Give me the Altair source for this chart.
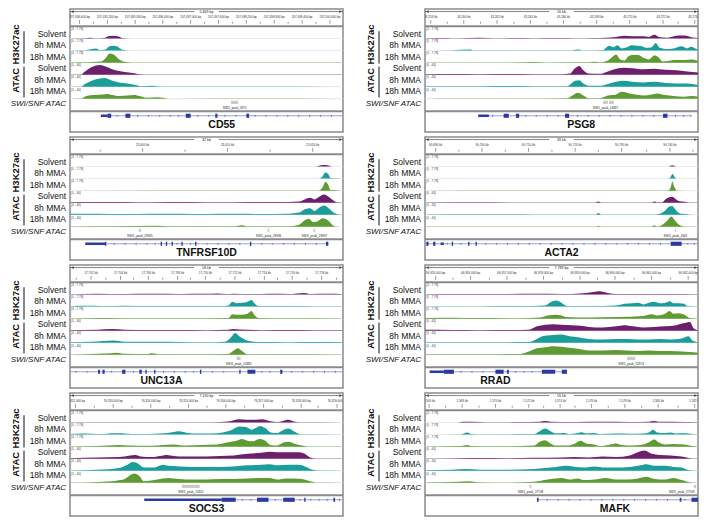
import altair as alt
import pandas as pd

FONT = "Liberation Sans"
COND = ["Solvent", "8h MMA", "18h MMA"]
COLORS = ["#6b1f6c", "#1b9d99", "#5e9c33"]
ROW_LABELS = ["Solvent", "8h MMA", "18h MMA", "Solvent", "8h MMA", "18h MMA"]
RANGE_TEXT = ["[0 - 7.78]"] * 3 + ["[0 - 40]"] * 3

# ---------------- CD55 ----------------
CD55_K27_SOL = [(0,0.01),(5,0.02),(7.5,0.08),(9,0.03),(12.5,0.05),(14,0.2),(15.5,0.25),(17.5,0.2),(19,0.05),(22,0.01),(100,0.01)]
CD55_K27_8H = [(0,0.01),(5,0.02),(8,0.15),(9.5,0.2),(11,0.05),(13,0.1),(14.5,0.4),(16,0.45),(17.5,0.35),(19,0.1),(22,0.01),(100,0.01)]
CD55_K27_18H = [(0,0.01),(4,0.03),(8,0.05),(11.5,0.1),(13,0.4),(14.5,0.85),(16,0.75),(18,0.3),(20,0.08),(23,0.02),(100,0.01)]
CD55_ATAC_SOL = [(0,0.01),(4,0.02),(5.5,0.3),(8,0.7),(11,0.9),(13,0.75),(15,0.55),(17,0.38),(20,0.25),(23,0.15),(25.5,0.03),(30,0.01),(100,0.01)]
CD55_ATAC_8H = [(0,0.01),(4,0.02),(5.5,0.25),(8,0.55),(11,0.75),(12.5,0.8),(15,0.6),(18,0.4),(21,0.3),(24,0.15),(26,0.05),(30,0.08),(32,0.05),(35,0.02),(100,0.01)]
CD55_ATAC_18H = [(0,0.01),(4,0.02),(6,0.25),(9,0.35),(12,0.4),(13.5,0.45),(15.5,0.35),(18,0.25),(21,0.3),(23.5,0.35),(25.5,0.25),(28,0.1),(32,0.15),(34,0.1),(36,0.01),(70,0.03),(100,0.01)]
CD55_TICK_X = [3.5, 13.7, 23.9, 34, 44.2, 54.4, 64.6, 74.8, 85, 95.2]
CD55_TICK_LAB = ["207,494,600 bp","207,495,200 bp","207,495,800 bp","207,496,400 bp","207,497,000 bp","207,497,600 bp","207,498,200 bp","207,498,800 bp","207,499,400 bp","207,500,000 bp"]
CD55_PEAKS = [(59, 61.6, "SWI1_peak_2871")]
CD55_GENE = (11.3, 100)
CD55_EXONS = [(11.3,13.7,"utr"),(13.7,15.1,"cds"),(20.3,22.1,"cds"),(42.4,44.2,"cds"),(53.2,54,"cds"),(64.6,65.6,"cds")]
CD55_ARROWS = [17.5,25,29,33,37,40,47,51,57,61,68,72,76,80,84,88,92,96]

# ---------------- PSG8 ----------------
PSG8_K27_SOL = [(0,0.02),(8,0.05),(12,0.02),(20,0.06),(25,0.02),(33,0.05),(40,0.03),(48,0.05),(55,0.03),(62,0.05),(66,0.08),(70,0.15),(73,0.25),(76,0.2),(80,0.2),(82,0.15),(84,0.35),(86,0.12),(89,0.08),(92,0.25),(95,0.28),(98,0.1),(100,0.05)]
PSG8_K27_8H = [(0,0.01),(10,0.03),(16.5,0.1),(18,0.02),(40,0.03),(54,0.04),(56,0.1),(58,0.03),(65,0.05),(67.5,0.45),(69,0.3),(70.5,0.5),(72,0.2),(74,0.3),(75.5,0.5),(78,0.45),(79.5,0.4),(81,0.25),(83,0.3),(84.5,0.7),(86,0.25),(88,0.15),(91,0.2),(94,0.4),(96,0.2),(97.5,0.35),(99,0.2),(100,0.1)]
PSG8_K27_18H = [(0,0.01),(30,0.02),(40,0.05),(45,0.02),(60,0.03),(62,0.08),(64,0.03),(67,0.2),(68.5,0.5),(70,0.75),(71.5,0.3),(73,0.2),(74.5,0.6),(76,0.7),(78,0.7),(80,0.45),(82,0.3),(84,0.65),(85.5,0.5),(87,0.1),(89,0.15),(91,0.25),(95,0.25),(98,0.3),(100,0.15)]
PSG8_ATAC_SOL = [(0,0.04),(10,0.06),(20,0.05),(30,0.06),(40,0.05),(50,0.05),(53,0.1),(55,0.6),(56.5,0.8),(58,0.4),(60,0.1),(64,0.08),(67,0.3),(70,0.55),(73,0.65),(76,0.6),(80,0.5),(84,0.55),(88,0.45),(92,0.4),(96,0.3),(100,0.2)]
PSG8_ATAC_8H = [(0,0.04),(10,0.05),(20,0.04),(30,0.06),(40,0.05),(52,0.05),(55,0.55),(56.5,0.6),(58,0.3),(60,0.1),(64,0.08),(67,0.25),(70,0.45),(73,0.55),(76,0.45),(80,0.4),(84,0.45),(88,0.35),(92,0.3),(96,0.3),(100,0.15)]
PSG8_ATAC_18H = [(0,0.01),(10,0.02),(30,0.03),(52,0.05),(54,0.3),(56,0.55),(58,0.3),(60,0.05),(64,0.05),(67,0.3),(70,0.4),(72,0.65),(75,0.5),(78,0.35),(80,0.3),(83,0.4),(85,0.5),(88,0.35),(91,0.25),(95,0.2),(98,0.25),(100,0.2)]
PSG8_TICK_X = [2.1, 14.2, 26.4, 38.6, 50.7, 62.9, 75, 87.2, 98.8]
PSG8_TICK_LAB = ["43,258 kb","43,260 kb","43,262 kb","43,264 kb","43,266 kb","43,268 kb","43,270 kb","43,272 kb","43,274 kb"]
PSG8_PEAKS = [(65.2, 67, "SWI1_peak_14697"), (67.4, 69.2, "")]
PSG8_GENE = (19.5, 97.6)
PSG8_EXONS = [(19.5,23.4,"utr"),(28.8,30.7,"cds"),(33.3,34.5,"cds"),(51.3,52.8,"cds"),(87.2,88.8,"cds")]
PSG8_ARROWS = [25,37,41,45,49,56,60,64,68,72,76,80,84,92,95,97.6]

# ---------------- TNFRSF10D ----------------
TNF_K27_SOL = [(0,0),(90,0.01),(92,0.12),(93.5,0.15),(95,0.08),(96,0.01),(100,0)]
TNF_K27_8H = [(0,0),(91,0.01),(92.5,0.2),(93.5,0.55),(94.5,0.45),(95.5,0.05),(100,0)]
TNF_K27_18H = [(0,0),(91,0.02),(92.5,0.3),(93.5,0.8),(94.5,0.6),(95.5,0.05),(100,0)]
TNF_ATAC_SOL = [(0,0.05),(10,0.07),(20,0.06),(30,0.04),(40,0.06),(50,0.04),(60,0.05),(70,0.06),(80,0.06),(84,0.1),(86,0.3),(88,0.45),(89.5,0.3),(91,0.5),(93,0.75),(95,0.5),(96.5,0.2),(98,0.03),(100,0.01)]
TNF_ATAC_8H = [(0,0.08),(10,0.1),(20,0.07),(30,0.1),(40,0.08),(50,0.06),(60,0.08),(70,0.07),(80,0.1),(84,0.2),(86,0.5),(88,0.6),(89.5,0.35),(91,0.6),(93,0.85),(95,0.55),(96.5,0.2),(98,0.05),(100,0.02)]
TNF_ATAC_18H = [(0,0.03),(15,0.04),(32,0.1),(36,0.04),(60,0.05),(63,0.15),(65,0.05),(80,0.06),(84,0.2),(86,0.6),(87.5,0.75),(89,0.45),(90.5,0.5),(92.5,0.8),(94.5,0.6),(96,0.2),(97.5,0.03),(100,0.01)]
TNF_TICK_X = [26.6, 57.7, 88.9]
TNF_TICK_LAB = ["23,000 kb", "23,010 kb", "23,020 kb"]
TNF_PEAKS = [(25.2,26,"SWI1_peak_29935"),(72.4,73,"SWI1_peak_29936"),(89.2,89.8,"SWI1_peak_29937")]
TNF_GENE = (5.6, 94.9)
TNF_EXONS = [(5.6,12.8,"utr"),(12.8,13.3,"cds"),(33.2,33.7,"cds"),(35.1,35.6,"cds"),(37.2,37.7,"cds"),(40.8,41.3,"cds"),(45.8,46.3,"cds"),(65.9,66.4,"cds"),(93.8,94.6,"cds")]
TNF_ARROWS = [16,20,24,28,31,39,44,50,54,58,62,70,74,78,82,86,90]

# ---------------- ACTA2 ----------------
ACTA2_K27_SOL = [(0,0),(89,0.01),(90,0.08),(90.5,0.12),(91.2,0.06),(92,0),(100,0)]
ACTA2_K27_8H = [(0,0),(89,0.01),(90,0.15),(90.6,0.45),(91.3,0.2),(92,0.01),(100,0)]
ACTA2_K27_18H = [(0,0),(89,0.02),(90,0.3),(90.6,0.85),(91.3,0.35),(92.2,0.02),(100,0)]
ACTA2_ATAC_SOL = [(0,0.02),(20,0.03),(40,0.02),(62.5,0.02),(63.5,0.1),(64.5,0.02),(83,0.02),(84,0.1),(85,0.03),(87,0.05),(88,0.3),(89.5,0.5),(90.5,0.55),(91.5,0.4),(92.5,0.2),(94,0.1),(96,0.05),(98,0.02),(100,0.01)]
ACTA2_ATAC_8H = [(0,0.02),(20,0.04),(40,0.03),(62.5,0.02),(63.5,0.15),(64.5,0.02),(83,0.02),(86,0.1),(88,0.4),(89.5,0.75),(90.5,0.8),(91.5,0.55),(92.5,0.25),(94,0.08),(97,0.03),(100,0.01)]
ACTA2_ATAC_18H = [(0,0.02),(20,0.03),(40,0.03),(62.5,0.02),(63.5,0.1),(64.5,0.02),(83,0.03),(84,0.15),(85,0.03),(88,0.4),(89.5,0.8),(90.3,0.95),(91.5,0.6),(92.5,0.3),(94,0.08),(97,0.02),(100,0.01)]
ACTA2_TICK_X = [3.9, 20.9, 37.9, 55, 72, 89.7]
ACTA2_TICK_LAB = ["90,690 kb","90,700 kb","90,710 kb","90,720 kb","90,730 kb","90,740 kb"]
ACTA2_PEAKS = [(91.5, 92, "SWI1_peak_4341")]
ACTA2_GENE = (0, 100)
ACTA2_EXONS = [(0.5,1.3,"cds"),(3,3.8,"cds"),(5.7,6.9,"utr"),(9.8,10.3,"cds"),(15.8,16.3,"cds"),(18.5,19,"cds"),(90,94,"cds")]
ACTA2_ARROWS = [8,13,22,26,30,34,38,42,46,50,54,58,62,66,70,74,78,82,86,96,98.5]

# ---------------- UNC13A ----------------
UNC_K27_SOL = [(0,0.03),(10,0.08),(20,0.05),(30,0.07),(40,0.05),(50,0.06),(54,0.1),(57,0.05),(60,0.08),(65,0.05),(70,0.05),(75,0.06),(80,0.05),(86,0.15),(88,0.05),(95,0.06),(100,0.03)]
UNC_K27_8H = [(0,0.04),(5,0.07),(12,0.05),(20,0.08),(30,0.05),(45,0.06),(55,0.05),(58,0.1),(59.5,0.45),(61,0.3),(63,0.35),(65,0.45),(66.5,0.6),(67.5,0.3),(69,0.05),(80,0.05),(90,0.04),(100,0.03)]
UNC_K27_18H = [(0,0.02),(10,0.06),(20,0.04),(40,0.03),(58,0.05),(59.5,0.4),(61,0.35),(63,0.35),(65,0.45),(66.5,0.7),(67.5,0.35),(69,0.05),(80,0.03),(100,0.02)]
UNC_ATAC_SOL = [(0,0.05),(10,0.08),(15.5,0.15),(20,0.08),(30,0.06),(40,0.07),(50,0.05),(58,0.08),(60,0.15),(62,0.1),(70,0.05),(80,0.06),(90,0.05),(100,0.04)]
UNC_ATAC_8H = [(0,0.05),(8,0.08),(12,0.15),(16,0.2),(20,0.1),(30,0.08),(40,0.07),(50,0.05),(57,0.1),(59,0.5),(60.5,0.9),(62,0.6),(64,0.3),(65.5,0.15),(70,0.06),(80,0.05),(90,0.06),(100,0.04)]
UNC_ATAC_18H = [(0,0.03),(10,0.1),(15,0.15),(17,0.2),(20,0.1),(28,0.08),(30,0.15),(33,0.05),(45,0.05),(58,0.08),(60,0.4),(61.5,0.6),(63,0.35),(65,0.05),(80,0.04),(100,0.03)]
UNC_TICK_X = [7.7, 18.5, 28.7, 39.4, 49.6, 60.4, 71.2, 81.4, 92.2]
UNC_TICK_LAB = ["17,702 kb","17,704 kb","17,706 kb","17,708 kb","17,710 kb","17,712 kb","17,714 kb","17,716 kb","17,718 kb"]
UNC_PEAKS = [(61, 62.5, "SWI1_peak_14383")]
UNC_GENE = (0, 100)
UNC_EXONS = [(10.3,11,"cds"),(11.9,12.7,"cds"),(19.1,20.3,"cds"),(25.4,26.3,"cds"),(27.6,28.1,"cds"),(30.8,31.3,"cds"),(47.6,48.1,"cds"),(62,62.5,"cds"),(65,67.9,"cds"),(77,77.8,"cds")]
UNC_ARROWS = [2,6,15,23,34,38,42,45,52,56,70,73,81,85,89,93,97]

# ---------------- RRAD ----------------
RRAD_K27_SOL = [(0,0.03),(10,0.05),(20,0.04),(30,0.05),(40,0.06),(50,0.05),(57,0.1),(61,0.2),(64,0.3),(67,0.15),(70,0.05),(80,0.04),(90,0.05),(100,0.03)]
RRAD_K27_8H = [(0,0.03),(20,0.04),(35,0.05),(44,0.1),(46,0.4),(48,0.55),(50,0.35),(52,0.05),(60,0.05),(70,0.1),(73,0.25),(76,0.3),(78,0.35),(80,0.2),(82,0.35),(84,0.45),(86,0.3),(88,0.35),(89.7,0.5),(91,0.3),(93,0.3),(95,0.25),(96,0.05),(100,0.02)]
RRAD_K27_18H = [(0,0.05),(10,0.08),(20,0.05),(35,0.04),(42,0.1),(45,0.3),(48,0.35),(50,0.3),(52,0.15),(60,0.1),(70,0.15),(80,0.25),(83,0.4),(85,0.3),(88,0.45),(89.5,0.7),(91,0.45),(93,0.5),(95,0.35),(97,0.05),(100,0.02)]
RRAD_ATAC_SOL = [(0,0.08),(10,0.06),(20,0.05),(30,0.06),(38,0.08),(41,0.4),(44,0.55),(47,0.6),(50,0.55),(54,0.5),(57,0.45),(60,0.35),(65,0.3),(70,0.4),(73,0.5),(76,0.4),(80,0.3),(84,0.35),(88,0.4),(92,0.5),(95,0.7),(97,0.8),(98.5,0.2),(100,0.05)]
RRAD_ATAC_8H = [(0,0.05),(20,0.05),(38,0.06),(41,0.35),(43,0.6),(46,0.7),(50,0.75),(53,0.6),(56,0.5),(60,0.35),(65,0.3),(70,0.35),(74,0.35),(78,0.3),(82,0.3),(86,0.35),(90,0.3),(94,0.4),(96.5,0.6),(98,0.2),(100,0.05)]
RRAD_ATAC_18H = [(0,0.05),(20,0.05),(35,0.08),(38,0.3),(41,0.6),(44,0.7),(47,0.8),(50,0.75),(53,0.65),(56,0.55),(60,0.4),(65,0.4),(70,0.45),(74,0.4),(78,0.35),(82,0.4),(86,0.35),(90,0.35),(94,0.3),(97,0.25),(100,0.2)]
RRAD_TICK_X = [3.9, 16.7, 30, 43.4, 56.8, 69.6, 83, 96.4]
RRAD_TICK_LAB = ["66,955,000 bp","66,956,000 bp","66,957,000 bp","66,958,000 bp","66,959,000 bp","66,960,000 bp","66,961,000 bp","66,962,000 bp"]
RRAD_PEAKS = [(74, 77, "SWI1_peak_31974")]
RRAD_GENE = (1.7, 52)
RRAD_EXONS = [(1.7,6.9,"utr"),(6.9,10.6,"cds"),(25.8,28.8,"cds"),(30,30.7,"cds"),(42.8,47.7,"cds"),(50.1,52,"cds")]
RRAD_ARROWS = [13,17,21,33,36,39]

# ---------------- SOCS3 ----------------
SOCS3_K27_SOL = [(0,0.02),(50,0.02),(55,0.05),(58,0.1),(62,0.3),(65,0.25),(68,0.25),(70.5,0.3),(73,0.15),(76,0.05),(78,0.15),(80,0.25),(82,0.1),(84,0.02),(100,0.01)]
SOCS3_K27_8H = [(0,0.05),(5,0.1),(10,0.05),(17,0.12),(25,0.05),(33,0.1),(37,0.2),(40,0.3),(43,0.15),(47,0.1),(52,0.1),(56,0.2),(59,0.4),(62,0.75),(64.5,0.7),(66.5,0.45),(68,0.6),(69.7,0.8),(71.5,0.6),(73.5,0.2),(76,0.15),(78,0.4),(80,0.55),(82,0.3),(84,0.05),(86,0.02),(100,0.01)]
SOCS3_K27_18H = [(0,0.02),(10,0.05),(18,0.15),(21,0.1),(30,0.08),(34,0.15),(38,0.2),(42,0.1),(48,0.15),(54,0.2),(58,0.4),(61,0.55),(63,0.7),(65,0.55),(67,0.5),(69.5,0.7),(71.5,0.55),(73.5,0.15),(76,0.1),(78,0.35),(80,0.45),(82,0.3),(85,0.1),(87,0.02),(100,0.01)]
SOCS3_ATAC_SOL = [(0,0.05),(10,0.1),(18,0.15),(22,0.3),(24,0.35),(26,0.2),(30,0.15),(33,0.25),(35.5,0.35),(38,0.25),(42,0.2),(46,0.2),(50,0.2),(55,0.25),(60,0.3),(65,0.45),(70,0.55),(73,0.65),(76,0.6),(80,0.6),(84,0.6),(86,0.45),(88,0.1),(90,0.02),(100,0.01)]
SOCS3_ATAC_8H = [(0,0.02),(10,0.08),(18,0.25),(21,0.55),(23,0.8),(25,0.65),(27,0.3),(31,0.3),(34,0.55),(36,0.45),(40,0.4),(45,0.35),(50,0.35),(55,0.35),(60,0.4),(65,0.5),(70,0.55),(73,0.6),(76,0.5),(80,0.55),(84,0.55),(86,0.4),(89,0.1),(92,0.02),(100,0.01)]
SOCS3_ATAC_18H = [(0,0.02),(10,0.08),(17,0.2),(20,0.35),(22,0.7),(23.6,0.85),(25.5,0.6),(27,0.15),(31,0.25),(34,0.4),(36,0.45),(40,0.35),(45,0.3),(50,0.3),(55,0.35),(60,0.35),(65,0.4),(70,0.45),(73,0.45),(76,0.3),(79,0.4),(82,0.4),(85,0.35),(88,0.15),(91,0.02),(100,0.01)]
SOCS3_TICK_X = [2, 15.8, 29.6, 43.4, 57.1, 70.9, 84.7, 97.8]
SOCS3_TICK_LAB = ["76,352,000 bp","76,353,000 bp","76,354,000 bp","76,355,000 bp","76,356,000 bp","76,357,000 bp","76,358,000 bp","76,359,000 bp"]
SOCS3_PEAKS = [(41, 47.5, "SWI1_peak_13201")]
SOCS3_GENE = (27.2, 100)
SOCS3_EXONS = [(27.2,55.5,"utr"),(55.5,60.7,"cds"),(68.5,72.7,"cds"),(78.1,82.3,"cds"),(85.8,86.3,"cds"),(96.5,97.1,"cds")]
SOCS3_ARROWS = [63,66,75,84,88,91,94,98.5]

# ---------------- MAFK ----------------
MAFK_K27_SOL = [(0,0.01),(12,0.01),(14,0.06),(20,0.05),(25,0.03),(35,0.04),(42,0.08),(44,0.15),(46,0.08),(55,0.05),(65,0.06),(75,0.05),(82,0.08),(84,0.15),(86,0.06),(95,0.05),(100,0.02)]
MAFK_K27_8H = [(0,0.01),(13,0.03),(15.5,0.2),(17,0.05),(22,0.03),(40,0.05),(42,0.3),(44,0.55),(46,0.3),(48,0.1),(51,0.15),(53,0.05),(56,0.15),(57.5,0.22),(59,0.1),(62,0.15),(64,0.05),(70,0.1),(75,0.08),(80,0.1),(82,0.2),(83.6,0.45),(85,0.2),(88,0.15),(90,0.2),(92,0.1),(95,0.12),(98,0.05),(100,0.02)]
MAFK_K27_18H = [(0,0.02),(13,0.05),(15.5,0.15),(17,0.05),(25,0.03),(40,0.1),(42,0.45),(44,0.6),(46,0.3),(48,0.1),(52,0.1),(55,0.3),(57,0.55),(59,0.3),(62,0.2),(64,0.05),(68,0.2),(70,0.3),(72,0.15),(76,0.1),(80,0.2),(82,0.4),(84,0.65),(85.5,0.4),(88,0.2),(91,0.25),(95,0.2),(98,0.05),(100,0.02)]
MAFK_ATAC_SOL = [(0,0.02),(12,0.05),(20,0.06),(30,0.05),(40,0.08),(50,0.1),(55,0.15),(60,0.12),(65,0.2),(70,0.15),(75,0.3),(78,0.6),(80.5,0.75),(83,0.45),(86,0.35),(90,0.3),(94,0.2),(97,0.05),(100,0.01)]
MAFK_ATAC_8H = [(0,0.05),(10,0.1),(15,0.15),(20,0.1),(30,0.08),(40,0.15),(44,0.25),(48,0.35),(52,0.45),(55,0.35),(58,0.3),(62,0.4),(66,0.3),(70,0.3),(75,0.35),(79,0.5),(81,0.6),(84,0.45),(88,0.45),(91,0.35),(94,0.3),(96,0.1),(98,0.02),(100,0.01)]
MAFK_ATAC_18H = [(0,0.03),(5,0.05),(12,0.1),(16,0.15),(20,0.05),(30,0.03),(40,0.1),(45,0.3),(50,0.45),(53,0.3),(56,0.4),(58,0.25),(62,0.3),(66,0.45),(70,0.3),(74,0.3),(78,0.4),(81,0.55),(84,0.35),(88,0.3),(91,0.45),(94,0.25),(97,0.05),(100,0.01)]
MAFK_TICK_X = [1.5, 13.6, 25.8, 38, 49.5, 61, 73.2, 85.4, 98.8]
MAFK_TICK_LAB = ["1,566 kb","1,568 kb","1,570 kb","1,572 kb","1,574 kb","1,576 kb","1,578 kb","1,580 kb","1,582 kb"]
MAFK_PEAKS = [(38.3, 39, "SWI1_peak_27748"), (98.5, 99.3, "SWI1_peak_27749")]
MAFK_GENE = (41, 100)
MAFK_EXONS = [(41,41.6,"cds"),(93.3,93.9,"cds"),(97.6,100,"cds")]
MAFK_ARROWS = [45,49,53,57,61,65,69,73,77,81,85,89,95.5]

PANELS = {
    "CD55": dict(span="5,669 bp", sig=[CD55_K27_SOL, CD55_K27_8H, CD55_K27_18H, CD55_ATAC_SOL, CD55_ATAC_8H, CD55_ATAC_18H],
                 tx=CD55_TICK_X, tl=CD55_TICK_LAB, peaks=CD55_PEAKS, gene=CD55_GENE, exons=CD55_EXONS, arrows=CD55_ARROWS, strand="+", name_x=55.6),
    "PSG8": dict(span="16 kb", sig=[PSG8_K27_SOL, PSG8_K27_8H, PSG8_K27_18H, PSG8_ATAC_SOL, PSG8_ATAC_8H, PSG8_ATAC_18H],
                 tx=PSG8_TICK_X, tl=PSG8_TICK_LAB, peaks=PSG8_PEAKS, gene=PSG8_GENE, exons=PSG8_EXONS, arrows=PSG8_ARROWS, strand="+", name_x=57.2),
    "TNFRSF10D": dict(span="32 kb", sig=[TNF_K27_SOL, TNF_K27_8H, TNF_K27_18H, TNF_ATAC_SOL, TNF_ATAC_8H, TNF_ATAC_18H],
                 tx=TNF_TICK_X, tl=TNF_TICK_LAB, peaks=TNF_PEAKS, gene=TNF_GENE, exons=TNF_EXONS, arrows=TNF_ARROWS, strand="-", name_x=50),
    "ACTA2": dict(span="39 kb", sig=[ACTA2_K27_SOL, ACTA2_K27_8H, ACTA2_K27_18H, ACTA2_ATAC_SOL, ACTA2_ATAC_8H, ACTA2_ATAC_18H],
                 tx=ACTA2_TICK_X, tl=ACTA2_TICK_LAB, peaks=ACTA2_PEAKS, gene=ACTA2_GENE, exons=ACTA2_EXONS, arrows=ACTA2_ARROWS, strand="-", name_x=50),
    "UNC13A": dict(span="18 kb", sig=[UNC_K27_SOL, UNC_K27_8H, UNC_K27_18H, UNC_ATAC_SOL, UNC_ATAC_8H, UNC_ATAC_18H],
                 tx=UNC_TICK_X, tl=UNC_TICK_LAB, peaks=UNC_PEAKS, gene=UNC_GENE, exons=UNC_EXONS, arrows=UNC_ARROWS, strand="-", name_x=33.5),
    "RRAD": dict(span="7,789 bp", sig=[RRAD_K27_SOL, RRAD_K27_8H, RRAD_K27_18H, RRAD_ATAC_SOL, RRAD_ATAC_8H, RRAD_ATAC_18H],
                 tx=RRAD_TICK_X, tl=RRAD_TICK_LAB, peaks=RRAD_PEAKS, gene=RRAD_GENE, exons=RRAD_EXONS, arrows=RRAD_ARROWS, strand="-", name_x=25.8),
    "SOCS3": dict(span="7,240 bp", sig=[SOCS3_K27_SOL, SOCS3_K27_8H, SOCS3_K27_18H, SOCS3_ATAC_SOL, SOCS3_ATAC_8H, SOCS3_ATAC_18H],
                 tx=SOCS3_TICK_X, tl=SOCS3_TICK_LAB, peaks=SOCS3_PEAKS, gene=SOCS3_GENE, exons=SOCS3_EXONS, arrows=SOCS3_ARROWS, strand="-", name_x=50),
    "MAFK": dict(span="16 kb", sig=[MAFK_K27_SOL, MAFK_K27_8H, MAFK_K27_18H, MAFK_ATAC_SOL, MAFK_ATAC_8H, MAFK_ATAC_18H],
                 tx=MAFK_TICK_X, tl=MAFK_TICK_LAB, peaks=MAFK_PEAKS, gene=MAFK_GENE, exons=MAFK_EXONS, arrows=MAFK_ARROWS, strand="+", name_x=69.6),
}
ORDER = [("CD55", "PSG8"), ("TNFRSF10D", "ACTA2"), ("UNC13A", "RRAD"), ("SOCS3", "MAFK")]

# ---------------- layout (in 0..125 panel units) ----------------
W, H, LW, GAP = 273, 123, 62, 20
BASES = [30, 42.25, 54.5, 66.75, 79, 91.25]
TRACK_H = 11
LABEL_Y = [25.5, 37, 48.5, 60, 72, 83.5]
SWI_Y = 96.5
GENE_Y = 108.5

XS = alt.Scale(domain=[0, 100], nice=False, zero=False)
YS = alt.Scale(domain=[0, 125], reverse=True, nice=False, zero=False)


def X(f):
    return alt.X(f, type="quantitative", scale=XS, axis=None)


def Y(f):
    return alt.Y(f, type="quantitative", scale=YS, axis=None)


def tracks_chart(name):
    p = PANELS[name]
    rows = []
    for i, s in enumerate(p["sig"]):
        for x, v in s:
            rows.append(dict(track=i, cond=COND[i % 3], x=x, v=v, base=BASES[i]))
    sig = pd.DataFrame(rows)
    base_df = pd.DataFrame({"base": BASES, "rt": RANGE_TEXT})

    baselines = alt.Chart(base_df).mark_rule(color="#e4e4e4", strokeWidth=0.8).encode(y=Y("base"))
    rng = (alt.Chart(base_df)
           .transform_calculate(ry=f"datum.base - {TRACK_H} + 1.3", rx="0.5")
           .mark_text(align="left", baseline="middle", fontSize=3, font=FONT, color="#444")
           .encode(x=X("rx"), y=Y("ry"), text="rt:N"))
    area = (alt.Chart(sig)
            .transform_calculate(top=f"datum.base - datum.v * {TRACK_H}")
            .mark_area(interpolate="monotone")
            .encode(x=X("x"), y=Y("top"), y2=alt.Y2("base"),
                    color=alt.Color("cond:N", scale=alt.Scale(domain=COND, range=COLORS), legend=None),
                    detail="track:N"))

    # ruler
    top_line = alt.Chart(pd.DataFrame({"y": [2.6]})).mark_rule(color="#333", strokeWidth=0.6).encode(y=Y("y"))
    gap = alt.Chart(pd.DataFrame({"x": [45.5], "x2": [54.5], "y": [0.9], "y2": [4.3]})).mark_rect(color="white").encode(
        x=X("x"), x2="x2", y=Y("y"), y2="y2")
    span_t = alt.Chart(pd.DataFrame({"x": [50], "y": [2.6], "t": [p["span"]]})).mark_text(
        fontSize=3.6, font=FONT, color="#222", baseline="middle").encode(x=X("x"), y=Y("y"), text="t:N")
    heads = alt.Chart(pd.DataFrame({"x": [0.9, 99.1], "y": [2.6, 2.6], "s": ["triangle-left", "triangle-right"]})).mark_point(
        filled=True, size=7, color="#333", opacity=1).encode(x=X("x"), y=Y("y"), shape=alt.Shape("s:N", scale=None))
    tx = p["tx"]
    step = (tx[1] - tx[0]) if len(tx) > 1 else 10
    minor = [t - step / 2 for t in tx] + [tx[-1] + step / 2]
    minor = [m for m in minor if 0.5 < m < 99.5]
    tlab = alt.Chart(pd.DataFrame({"x": tx, "t": p["tl"], "y": [8.2] * len(tx)})).mark_text(
        fontSize=3, font=FONT, color="#333", baseline="middle", clip=True).encode(x=X("x"), y=Y("y"), text="t:N")
    major_t = alt.Chart(pd.DataFrame({"x": tx, "y": [11.2] * len(tx), "y2": [15] * len(tx)})).mark_rule(
        color="#555", strokeWidth=0.6).encode(x=X("x"), y=Y("y"), y2="y2")
    minor_t = alt.Chart(pd.DataFrame({"x": minor, "y": [13] * len(minor), "y2": [15] * len(minor)})).mark_rule(
        color="#555", strokeWidth=0.6).encode(x=X("x"), y=Y("y"), y2="y2")
    seps = alt.Chart(pd.DataFrame({"y": [17.6, 104]})).mark_rule(color="#8a8a8a", strokeWidth=2).encode(y=Y("y"))

    # SWI/SNF peaks
    pk = pd.DataFrame([dict(x=a, x2=b, t=t, y=93.3, y2=96.5, ty=100.3) for a, b, t in p["peaks"]])
    pk_rect = alt.Chart(pk).mark_rect(color="#c9c9c9").encode(x=X("x"), x2="x2", y=Y("y"), y2="y2")
    pk_text = (alt.Chart(pk).transform_calculate(cx="min((datum.x + datum.x2) / 2, 94)")
               .mark_text(fontSize=3, font=FONT, color="#222", baseline="middle", clip=True)
               .encode(x=X("cx"), y=Y("ty"), text="t:N"))

    # gene model
    g0, g1 = p["gene"]
    gline = alt.Chart(pd.DataFrame({"x": [g0], "x2": [g1], "y": [GENE_Y]})).mark_rule(
        color="#9098d8", strokeWidth=0.9).encode(x=X("x"), x2="x2", y=Y("y"))
    ex = pd.DataFrame([dict(x=a, x2=b, kind=k) for a, b, k in p["exons"]])
    exons = (alt.Chart(ex)
             .transform_calculate(y1=f"datum.kind == 'cds' ? {GENE_Y - 2.1} : {GENE_Y - 1.3}",
                                  y2=f"datum.kind == 'cds' ? {GENE_Y + 2.1} : {GENE_Y + 1.3}")
             .mark_rect(color="#2b3a9e")
             .encode(x=X("x"), x2="x2", y=Y("y1"), y2="y2"))
    path = "M-1,-1L0,0L-1,1" if p["strand"] == "+" else "M1,-1L0,0L1,1"
    arr = alt.Chart(pd.DataFrame({"x": p["arrows"], "y": [GENE_Y] * len(p["arrows"])})).mark_point(
        shape=path, filled=False, size=5, strokeWidth=0.6, color="#3545a8", opacity=1).encode(x=X("x"), y=Y("y"))
    gname = alt.Chart(pd.DataFrame({"x": [p["name_x"]], "y": [117.5], "t": [name]})).mark_text(
        fontSize=10.5, font=FONT, fontWeight="bold", color="#111", baseline="middle").encode(x=X("x"), y=Y("y"), text="t:N")

    return alt.layer(baselines, area, rng, top_line, gap, span_t, heads, tlab, major_t, minor_t, seps,
                     pk_rect, pk_text, gline, exons, arr, gname).properties(
        width=W, height=H, view=alt.ViewBackground(stroke="#8a8a8a", strokeWidth=1.5))


def label_chart(extra):
    lxs = alt.Scale(domain=[-extra, LW], nice=False, zero=False)
    LX = lambda f: alt.X(f, type="quantitative", scale=lxs, axis=None)
    labs = pd.DataFrame({"t": ROW_LABELS, "y": LABEL_Y, "x": [58] * 6})
    t1 = alt.Chart(labs).mark_text(align="right", baseline="middle", fontSize=8.5, font=FONT, color="#111").encode(
        x=LX("x"), y=Y("y"), text="t:N")
    swi = alt.Chart(pd.DataFrame({"t": ["SWI/SNF ATAC"], "y": [SWI_Y], "x": [58]})).mark_text(
        align="right", baseline="middle", fontSize=8, font=FONT, fontStyle="italic", color="#111").encode(
        x=LX("x"), y=Y("y"), text="t:N")
    rot = alt.Chart(pd.DataFrame({"t": ["H3K27ac", "ATAC"], "y": [36, 72.5], "x": [8, 8]})).mark_text(
        angle=270, align="center", baseline="middle", fontSize=9.5, fontWeight="bold", font=FONT, color="#111").encode(
        x=LX("x"), y=Y("y"), text="t:N")
    lines = alt.Chart(pd.DataFrame({"x": [15.5, 15.5], "x2": [16.5, 16.5], "y": [22.5, 58.5], "y2": [55.5, 90]})).mark_rect(
        color="#111").encode(x=LX("x"), x2="x2", y=Y("y"), y2="y2")
    return alt.layer(t1, swi, rot, lines).properties(width=LW + extra, height=H,
                                                     view=alt.ViewBackground(strokeOpacity=0))


cells = []
for a, b in ORDER:
    cells += [label_chart(0), tracks_chart(a), label_chart(GAP), tracks_chart(b)]

chart = (alt.concat(*cells, columns=4, spacing={"row": 5, "column": 0}, bounds="flush")
         .properties(padding=0)
         .configure_view(strokeWidth=0))

chart.save("out.html", embed_options={"renderer": "svg", "actions": False})
